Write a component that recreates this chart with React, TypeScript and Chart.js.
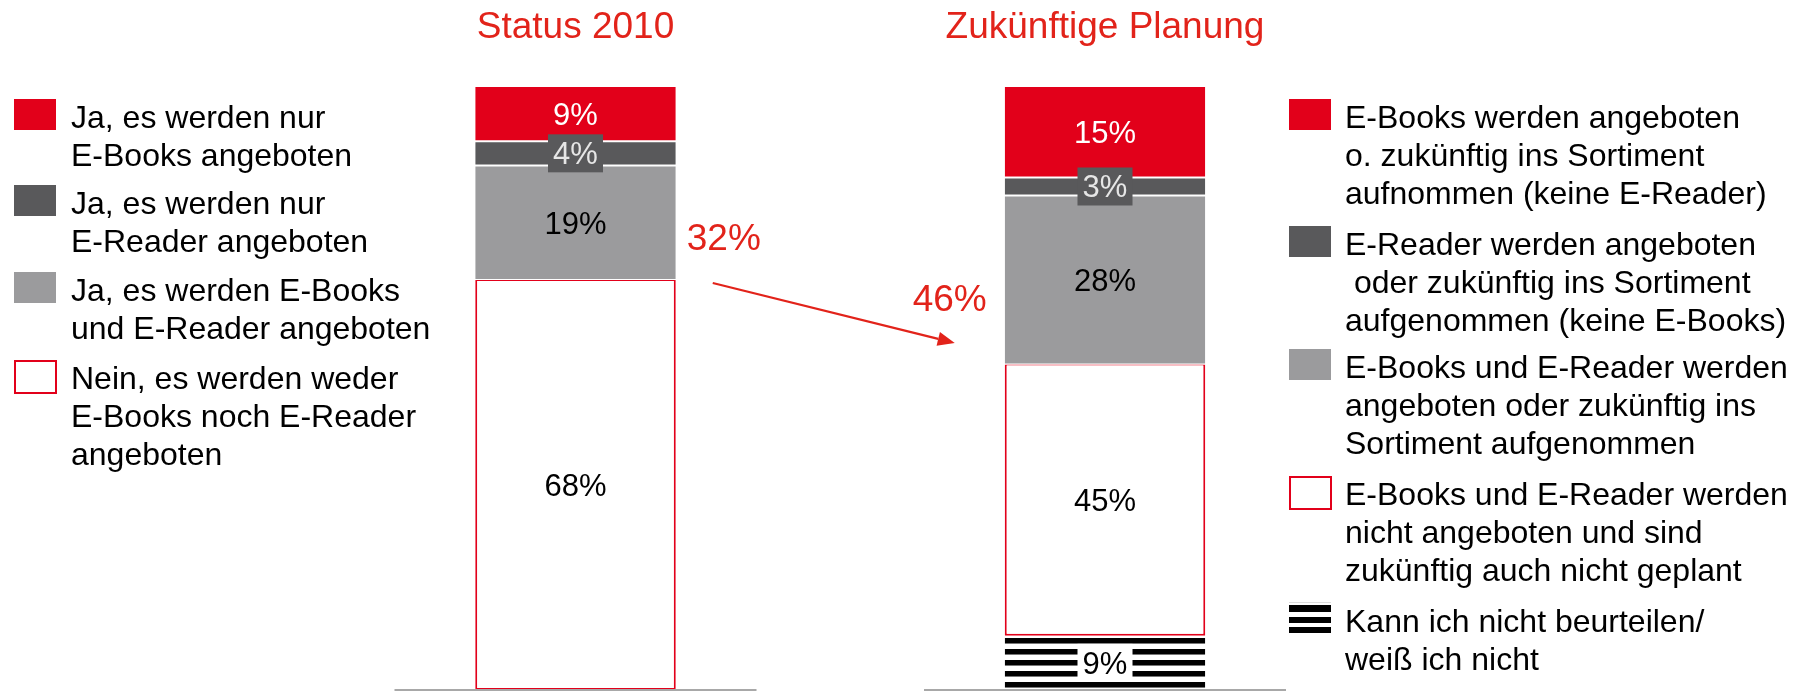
import React, { useEffect, useRef } from "react";
import { Chart, registerables } from "chart.js";

Chart.register(...registerables);

// ---- data ----
const categories = ["Status 2010", "Zukünftige Planung"];
const onlyEbooks = [9, 15];
const onlyEreader = [4, 3];
const bothOffered = [19, 28];
const noneOffered = [68, 45];
const cannotJudge = [0, 9];

const legendLeft = [
  ["Ja, es werden nur", "E-Books angeboten"],
  ["Ja, es werden nur", "E-Reader angeboten"],
  ["Ja, es werden E-Books", "und E-Reader angeboten"],
  ["Nein, es werden weder", "E-Books noch E-Reader", "angeboten"],
];
const legendRight = [
  ["E-Books werden angeboten", "o. zukünftig ins Sortiment", "aufnommen (keine E-Reader)"],
  ["E-Reader werden angeboten", " oder zukünftig ins Sortiment", "aufgenommen (keine E-Books)"],
  ["E-Books und E-Reader werden", "angeboten oder zukünftig ins", "Sortiment aufgenommen"],
  ["E-Books und E-Reader werden", "nicht angeboten und sind", "zukünftig auch nicht geplant"],
  ["Kann ich nicht beurteilen/", "weiß ich nicht"],
];

// ---- styles ----
const RED = "#E2001A";
const TEXT_RED = "#E2231A";
const DARK = "#59595B";
const LIGHT = "#9B9B9D";
const AXIS = "#A8A8A8";
const FONT = '"Liberation Sans", Arial, sans-serif';

function makeStripes(): CanvasPattern | string {
  const c = document.createElement("canvas");
  c.width = 8;
  c.height = 11;
  const g = c.getContext("2d");
  if (!g) return "#000";
  g.fillStyle = "#fff";
  g.fillRect(0, 0, 8, 11);
  g.fillStyle = "#000";
  g.fillRect(0, 0, 8, 5);
  g.fillStyle = "#777";
  g.fillRect(0, 5, 8, 1);
  const p = g.createPattern(c, "repeat");
  return p || "#000";
}

export default function App() {
  const ref = useRef<HTMLCanvasElement | null>(null);

  useEffect(() => {
    document.body.style.margin = "0";
    const canvas = ref.current;
    if (!canvas) return;
    const stripes = makeStripes();

    const overlay = {
      id: "overlay",
      afterDraw(chart: any) {
        const ctx = chart.ctx as CanvasRenderingContext2D;
        const xs = chart.scales.x;
        ctx.save();

        // axis baselines under each bar
        ctx.fillStyle = AXIS;
        categories.forEach((_, i) => {
          const cx = xs.getPixelForValue(i);
          ctx.fillRect(cx - 181, 689, 362, 2);
        });

        // titles
        ctx.fillStyle = TEXT_RED;
        ctx.font = `37px ${FONT}`;
        ctx.textAlign = "center";
        ctx.textBaseline = "alphabetic";
        categories.forEach((c, i) => {
          ctx.fillText(c, xs.getPixelForValue(i), 38);
        });

        // data labels
        const labelStyles = [
          { color: "#000", box: "#fff" }, // cannotJudge
          { color: "#000", box: null }, // none
          { color: "#000", box: null }, // both
          { color: "#E6E6E6", box: DARK }, // only ereader
          { color: "#fff", box: null }, // only ebooks
        ];
        ctx.font = `31px ${FONT}`;
        chart.data.datasets.forEach((ds: any, di: number) => {
          const meta = chart.getDatasetMeta(di);
          meta.data.forEach((el: any, i: number) => {
            const v = ds.data[i];
            if (!v) return;
            const cy = (el.y + el.base) / 2;
            const st = labelStyles[di];
            if (st.box) {
              ctx.fillStyle = st.box;
              ctx.fillRect(el.x - 27.5, cy - 19, 55, 38);
            }
            ctx.fillStyle = st.color;
            ctx.textAlign = "center";
            ctx.fillText(`${v}%`, el.x, cy + 11);
          });
        });

        // summary labels + arrow
        const m0 = chart.getDatasetMeta(4).data[0];
        const m1 = chart.getDatasetMeta(4).data[1];
        const left0 = m0.x + m0.width / 2;
        const right1 = m1.x - m1.width / 2;
        const sum0 = onlyEbooks[0] + onlyEreader[0] + bothOffered[0];
        const sum1 = onlyEbooks[1] + onlyEreader[1] + bothOffered[1];
        ctx.fillStyle = TEXT_RED;
        ctx.font = `37px ${FONT}`;
        ctx.textAlign = "left";
        ctx.fillText(`${sum0}%`, left0 + 11, 250);
        ctx.textAlign = "right";
        ctx.fillText(`${sum1}%`, right1 - 18, 311);

        const x1 = left0 + 37, y1 = 283;
        const x2 = right1 - 50, y2 = 343;
        const ang = Math.atan2(y2 - y1, x2 - x1);
        const hl = 17, hw = 7;
        const bx = x2 - hl * Math.cos(ang), by = y2 - hl * Math.sin(ang);
        ctx.strokeStyle = TEXT_RED;
        ctx.lineWidth = 2.2;
        ctx.beginPath();
        ctx.moveTo(x1, y1);
        ctx.lineTo(bx, by);
        ctx.stroke();
        ctx.fillStyle = TEXT_RED;
        ctx.beginPath();
        ctx.moveTo(x2, y2);
        ctx.lineTo(bx + hw * Math.sin(ang), by - hw * Math.cos(ang));
        ctx.lineTo(bx - hw * Math.sin(ang), by + hw * Math.cos(ang));
        ctx.closePath();
        ctx.fill();

        // legends
        const drawLegend = (
          items: string[][],
          boxX: number,
          textX: number,
          firstBaselines: number[],
          kinds: string[]
        ) => {
          ctx.font = `32px ${FONT}`;
          ctx.textAlign = "left";
          items.forEach((lines, k) => {
            const b = firstBaselines[k];
            const top = b - 29;
            const kind = kinds[k];
            if (kind === "outline") {
              ctx.strokeStyle = RED;
              ctx.lineWidth = 2;
              ctx.strokeRect(boxX + 1, top + 1, 41, 32);
            } else if (kind === "stripes") {
              const st = top;
              ctx.fillStyle = "#ddd";
              ctx.fillRect(boxX, st - 1, 42, 1);
              ctx.fillStyle = "#000";
              ctx.fillRect(boxX, st + 2, 42, 7);
              ctx.fillRect(boxX, st + 14, 42, 6);
              ctx.fillRect(boxX, st + 24, 42, 6);
            } else {
              ctx.fillStyle = kind;
              ctx.fillRect(boxX, top, 42, 31);
            }
            ctx.fillStyle = "#000";
            lines.forEach((ln, li) => {
              ctx.fillText(ln, textX, b + li * 38);
            });
          });
        };
        drawLegend(legendLeft, 14, 71, [128, 214, 301, 389], [RED, DARK, LIGHT, "outline"]);
        drawLegend(
          legendRight,
          1289,
          1345,
          [128, 255, 378, 505, 632],
          [RED, DARK, LIGHT, "outline", "stripes"]
        );

        ctx.restore();
      },
    };

    const whiteSep = { top: 1, bottom: 1, left: 0, right: 0 };
    const chart = new Chart(canvas, {
      type: "bar",
      data: {
        labels: categories,
        datasets: [
          {
            label: "Kann ich nicht beurteilen",
            data: cannotJudge,
            backgroundColor: stripes as any,
            borderWidth: { top: 2, bottom: 0, left: 0, right: 0 },
            borderColor: "#fff",
            borderSkipped: false,
          },
          {
            label: "Nein",
            data: noneOffered,
            backgroundColor: "#fff",
            borderColor: RED,
            borderWidth: { top: 1, bottom: 2, left: 2, right: 2 },
            borderSkipped: false,
          },
          {
            label: "E-Books und E-Reader",
            data: bothOffered,
            backgroundColor: LIGHT,
            borderColor: "#fff",
            borderWidth: whiteSep,
            borderSkipped: false,
          },
          {
            label: "nur E-Reader",
            data: onlyEreader,
            backgroundColor: DARK,
            borderColor: "#fff",
            borderWidth: whiteSep,
            borderSkipped: false,
          },
          {
            label: "nur E-Books",
            data: onlyEbooks,
            backgroundColor: RED,
            borderColor: "#fff",
            borderWidth: { top: 0, bottom: 1, left: 0, right: 0 },
            borderSkipped: false,
          },
        ],
      },
      options: {
        responsive: false,
        animation: false,
        events: [],
        layout: { padding: { top: 87, bottom: 1, left: 310.75, right: 439.25 } },
        datasets: { bar: { categoryPercentage: 1, barPercentage: 0.3787 } },
        scales: {
          x: { stacked: true, display: false, offset: true, grid: { display: false } },
          y: { stacked: true, display: false, min: 0, max: 100 },
        },
        plugins: { legend: { display: false }, tooltip: { enabled: false } },
      },
      plugins: [overlay],
    });
    return () => chart.destroy();
  }, []);

  return (
    <div style={{ width: 1809, height: 691, position: "relative", background: "#fff" }}>
      <canvas ref={ref} width={1809} height={691} style={{ display: "block" }} />
    </div>
  );
}
